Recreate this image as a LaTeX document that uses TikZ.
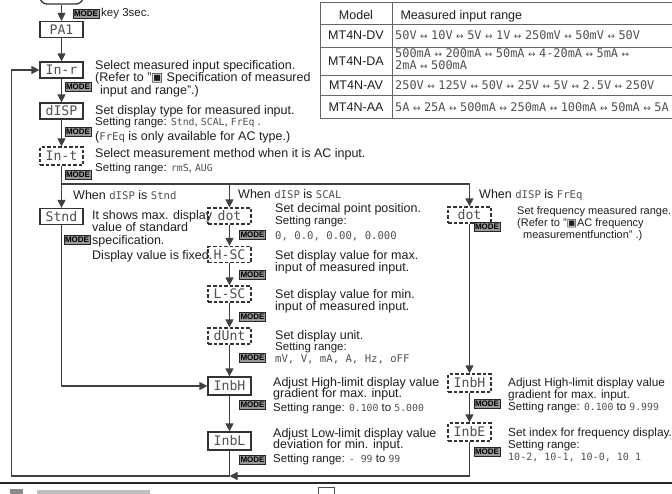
\documentclass[tikz,border=0pt]{standalone}
\usepackage{fontspec}
\setmainfont{Liberation Sans}
\newfontfamily\segfont[Scale=0.85]{DejaVu Sans Mono}
\newfontfamily\symfont{DejaVu Sans}
\usepackage{tikz}
\usetikzlibrary{arrows.meta,positioning}
\definecolor{ink}{HTML}{1e1e1e}
\definecolor{wire}{HTML}{404040}
\definecolor{segc}{HTML}{505050}
\newcommand{\sg}[1]{{\segfont\color{segc}#1}}
\newcommand{\lr}{\hspace{3.5pt}{\symfont\fontsize{9}{9}\selectfont ↔}\hspace{3.5pt}}
\newcommand{\smsize}{\fontsize{11.5}{12}\selectfont}

\begin{document}
\begin{tikzpicture}[x=1pt, y=-1pt,
  font=\fontsize{12.5}{12.8}\selectfont, text=ink,
  seg/.style={draw=black!80, line width=1.3pt, minimum width=43pt, minimum height=16pt,
    inner sep=0pt, font=\segfont\fontsize{15.5}{15.5}\selectfont, text=segc},
  segd/.style={seg, dash pattern=on 3.5pt off 2pt},
  tag/.style={draw=black!85, fill=black!40, line width=0.6pt, inner xsep=1.2pt, inner ysep=1.6pt,
    font=\bfseries\fontsize{8}{8}\selectfont, text=black},
  txt/.style={anchor=north west, inner sep=0pt, align=left},
  ln/.style={draw=wire, line width=1.4pt},
  arr/.style={ln, -{Triangle[length=8pt,width=8pt]}},
  tbl/.style={draw=black!60, line width=1pt},
  rng/.style={inner sep=0pt, font=\fontsize{14}{12}\selectfont}]
\useasboundingbox (0,0) rectangle (672,493);
\clip (0,0) rectangle (672,493);

% left column
\node[seg, rounded corners=7pt, minimum height=26pt] (run) at (61.5,-9) {};
\node[tag] (m0) at (86,13.5) {MODE};
\node[anchor=west, inner sep=1.5pt, font=\smsize] (k3) at (m0.east) {key 3sec.};
\node[seg] (pa1) at (61.5,29.5) {PA1};
\node[seg] (inr) at (61.5,70) {In-r};
\node[seg] (disp) at (61.5,111) {dISP};
\node[segd, minimum height=18pt] (inty) at (61.5,156) {In-t};
\node[seg] (stnd) at (61.5,216.5) {Stnd};
\node[tag] (m1) at (78,87) {MODE};
\node[tag] (m2) at (78,131.5) {MODE};
\node[tag] (m3) at (78,174.5) {MODE};
\node[tag] (m4) at (77,240) {MODE};

\node[txt] (tinr) at (95,59.9) {Select measured input specification.\\
  (Refer to "{\symfont ▣} Specification of measured\\\hspace*{5pt}input and range".)};
\node[txt] (tdisp) at (95,104.9) {Set display type for measured input.\\[-1pt]
  {\smsize Setting range: \sg{Stnd}, \sg{SCAL}, \sg{FrEq} .}\\[1.5pt]
  (\sg{FrEq} is only available for AC type.)};
\node[txt] (tinty) at (95,147.9) {Select measurement method when it is AC input.\\[1.2pt]
  {\smsize Setting range: \sg{rmS}, \sg{AUG}}};
\node[txt] (w1) at (73,189.9) {When \sg{dISP} is \sg{Stnd}};
\node[txt] (tstnd) at (92,209.9) {It shows max. display\\value of standard\\
  specification.\\[1.5pt]Display value is fixed.};

% middle column (SCAL)
\node[segd] (dot) at (229.5,216) {dot};
\node[segd] (hsc) at (229.5,254.5) {H-SC};
\node[segd] (lsc) at (229.5,294) {L-SC};
\node[segd] (dunt) at (229.5,336) {dUnt};
\node[seg, minimum height=18pt] (inbh) at (229.5,386) {InbH};
\node[seg, minimum height=18pt] (inbl) at (229.5,441) {InbL};
\node[tag] (m5) at (252.5,235) {MODE};
\node[tag] (m6) at (252.5,275) {MODE};
\node[tag] (m7) at (252.5,316.5) {MODE};
\node[tag] (m8) at (252.5,358) {MODE};
\node[tag] (m9) at (252.5,405) {MODE};
\node[tag] (m10) at (252.5,460) {MODE};

\node[txt] (w2) at (238,188.9) {When \sg{dISP} is \sg{SCAL}};
\node[txt] (tdot) at (275,202.9) {Set decimal point position.\\
  {\smsize Setting range:}\\[1.5pt]\sg{0, 0.0, 0.00, 0.000}};
\node[txt] (thsc) at (275,249.9) {Set display value for max.\\input of measured input.};
\node[txt] (tlsc) at (275,288.9) {Set display value for min.\\input of measured input.};
\node[txt] (tdunt) at (275,329.9) {Set display unit.\\[-1.5pt]
  {\smsize Setting range:}\\[-1pt]\sg{mV, V, mA, A, Hz, oFF}};
\node[txt] (tinbh) at (273,376.9) {Adjust High-limit display value\\[-1pt]
  gradient for max. input.\\[1pt]{\smsize Setting range: \sg{0.100} to \sg{5.000}}};
\node[txt] (tinbl) at (273,427.9) {Adjust Low-limit display value\\[-1pt]
  deviation for min. input.\\[1pt]{\smsize Setting range: \sg{- 99} to \sg{99}}};

% right column (FrEq)
\node[segd] (fdot) at (469.5,215) {dot};
\node[segd, minimum height=18pt] (finbh) at (469.5,383) {InbH};
\node[segd, minimum height=18pt] (finbe) at (469.5,432) {InbE};
\node[tag] (m11) at (487,227) {MODE};
\node[tag] (m12) at (487,404) {MODE};
\node[tag] (m13) at (487,452) {MODE};

\node[txt] (w3) at (479,188.9) {When \sg{dISP} is \sg{FrEq}};
\node[txt, font=\fontsize{11}{12}\selectfont] (tfdot) at (517,205.9) {Set frequency measured range.\\
  (Refer to "{\symfont ▣}AC frequency\\\hspace*{6pt}measurementfunction" .)};
\node[txt, font=\fontsize{11.8}{12}\selectfont] (tfinbh) at (508,377.3) {Adjust High-limit display value\\
  gradient for max. input.\\{\smsize Setting range: \sg{0.100} to \sg{9.999}}};
\node[txt, font=\fontsize{11.8}{12}\selectfont] (tfinbe) at (508,427.3) {Set index for frequency display.\\
  {\smsize Setting range:}\\\sg{10-2, 10-1, 10-0, 10 1}};

% table of ranges
\draw[tbl] (320,2) rectangle (700,118);
\draw[tbl] (392,2) -- (392,118);
\draw[tbl] (320,24) -- (700,24);
\draw[tbl] (320,47) -- (700,47);
\draw[tbl] (320,75) -- (700,75);
\draw[tbl] (320,95) -- (700,95);
\node[anchor=base] (hmod) at (356,19) {Model};
\node[anchor=base west] (hrng) at (397,19) {Measured input range};
\node[anchor=base] (mdv) at (356,39.5) {MT4N-DV};
\node[anchor=base] (mda) at (356,65) {MT4N-DA};
\node[anchor=base] (mav) at (356,89.5) {MT4N-AV};
\node[anchor=base] (maa) at (356,111) {MT4N-AA};
\node[rng, anchor=base west] (rdv) at (395,39.5)
  {\sg{50V\lr 10V\lr 5V\lr 1V\lr 250mV\lr 50mV\lr 50V}};
\node[rng, txt] (rda) at (395,48)
  {\sg{500mA\lr 200mA\lr 50mA\lr 4-20mA\lr 5mA\lr}\\\sg{2mA\lr 500mA}};
\node[rng, anchor=base west] (rav) at (395,89.5)
  {\sg{250V\lr 125V\lr 50V\lr 25V\lr 5V\lr 2.5V\lr 250V}};
\node[rng, anchor=base west] (raa) at (395,111)
  {\sg{5A\lr 25A\lr 500mA\lr 250mA\lr 100mA\lr 50mA\lr 5A}};

% connectors
\coordinate (fork) at (61.5,184);
\coordinate (back) at (11.5,476);
\draw[arr] (run.south) -- (pa1);
\draw[arr] (pa1) -- (inr);
\draw[arr] (inr) -- (disp);
\draw[arr] (disp) -- (inty);
\draw[arr] (inty) -- (stnd);
\draw[arr] (fork) -| (fdot.north);
\draw[arr] (dot.north |- fork) -- (dot);
\draw[arr] (dot) -- (hsc);
\draw[arr] (hsc) -- (lsc);
\draw[arr] (lsc) -- (dunt);
\draw[arr] (dunt) -- (inbh);
\draw[arr] (inbh) -- (inbl);
\draw[arr] (stnd) |- (inbh);
\draw[arr] (fdot) -- (finbh);
\draw[arr] (finbh) -- (finbe);
\draw[arr] (finbe) |- (inbl.south |- back);
\draw[arr] (inbl) |- (back) |- (inr);

% bottom rule and next section
\draw[line width=2.4pt, black!85] (0,483) -- (672,483);
\fill[black!45] (10,489) rectangle (23,497);
\fill[black!25] (37,490) rectangle (150,497);
\draw[black!70, line width=0.8pt] (318,487) rectangle (334,497);
\end{tikzpicture}
\end{document}
